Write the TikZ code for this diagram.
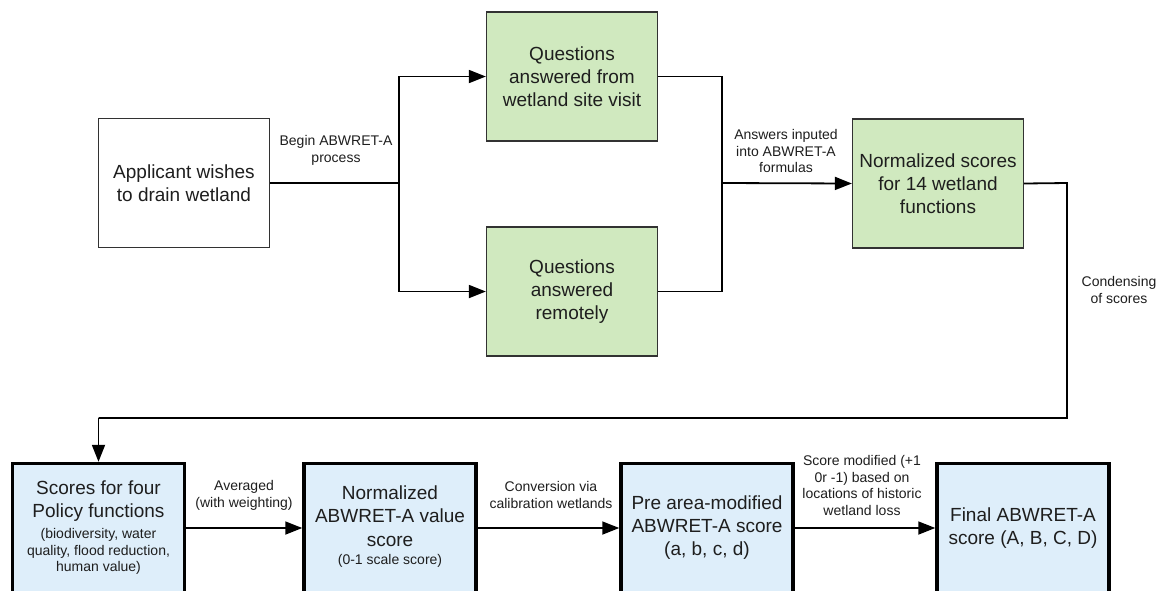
\documentclass[tikz,border=0pt]{standalone}
\usepackage{fontspec}
\setmainfont{Liberation Sans}
\usetikzlibrary{arrows.meta}
\definecolor{boxgreen}{RGB}{208,233,191}
\definecolor{boxblue}{RGB}{222,238,250}
\definecolor{txt}{RGB}{30,30,30}
\definecolor{edge}{RGB}{50,50,50}
\tikzset{
  bigtext/.style={font=\fontsize{19}{23}\selectfont, text=txt, align=center},
  labtext/.style={font=\fontsize{14}{16.8}\selectfont, text=txt, align=center, inner sep=0pt},
  topbox/.style={draw=edge, line width=1.3pt, minimum width=171pt, minimum height=129pt, inner sep=0pt, bigtext},
  greenbox/.style={topbox, fill=boxgreen},
  bluebox/.style={draw=black, line width=3.5pt, fill=boxblue, minimum width=172pt, minimum height=129pt, inner sep=0pt, bigtext},
  conn/.style={draw=black, line width=1.8pt},
  arr/.style={conn, -{Triangle[length=17pt,width=13pt]}}
}
\begin{document}
\begin{tikzpicture}[x=1pt, y=-1pt]
\useasboundingbox (0,0) rectangle (1161,590);
\clip (0,0) rectangle (1161,590);
\fill[white] (0,0) rectangle (1161,590);

% top row
\node[topbox, fill=white] (app) at (184,183) {Applicant wishes\\to drain wetland};
\node[greenbox] (q1) at (572,76.5) {Questions\\answered from\\wetland site visit};
\node[greenbox] (q2) at (572,291.5) {Questions\\answered\\remotely};
\node[greenbox] (ns) at (938,183.5) {Normalized scores\\for 14 wetland\\functions};

% bottom row
\node[bluebox] (pf) at (98.5,528) {};
\node[bigtext, inner sep=0pt] (pft1) at (98.5,501) {Scores for four\\Policy functions};
\node[labtext] (pft2) at (98.5,551.5) {(biodiversity, water\\quality, flood reduction,\\human value)};
\node[bluebox] (nv) at (390,528) {};
\node[bigtext, inner sep=0pt, font=\fontsize{19}{23.2}\selectfont] (nvt1) at (390,516) {Normalized\\ABWRET-A value\\score};
\node[labtext] (nvt2) at (390,561) {(0-1 scale score)};
\node[bluebox] (pre) at (707,528) {Pre area-modified\\ABWRET-A score\\(a, b, c, d)};
\node[bluebox] (fin) at (1023,528) {Final ABWRET-A\\score (A, B, C, D)};

% junctions
\coordinate (s1) at (399,183);
\coordinate (j1) at (722,183);
\coordinate (c1) at (1067,183);
\coordinate (c2) at (1067,418);
\coordinate (c3) at (98.5,418);

% connectors
\draw[conn] (app.east) -- (s1);
\draw[arr] (s1) |- (q1.west);
\draw[arr] (s1) |- (q2.west);
\draw[conn] (q1.east) -| (j1);
\draw[conn] (q2.east) -| (j1);
\draw[arr] (j1) -- (ns.west);
\draw[conn] (ns.east) -- (c1) -- (c2) -- (c3);
\draw[arr] (c3) -- (pf.north);
\draw[arr] (pf.east) -- (nv.west);
\draw[arr] (nv.east) -- (pre.west);
\draw[arr] (pre.east) -- (fin.west);

% labels
\node[labtext] (lbegin) at (336,150) {Begin ABWRET-A\\process};
\node[labtext] (lans) at (786,151) {Answers inputed\\into ABWRET-A\\formulas};
\node[labtext] (lcond) at (1119,290) {Condensing\\of scores};
\node[labtext] (lavg) at (244,495) {Averaged\\(with weighting)};
\node[labtext] (lconv) at (551,495) {Conversion via\\calibration wetlands};
\node[labtext] (lscore) at (862,485.5) {Score modified (+1\\0r -1) based on\\locations of historic\\wetland loss};
\end{tikzpicture}
\end{document}
